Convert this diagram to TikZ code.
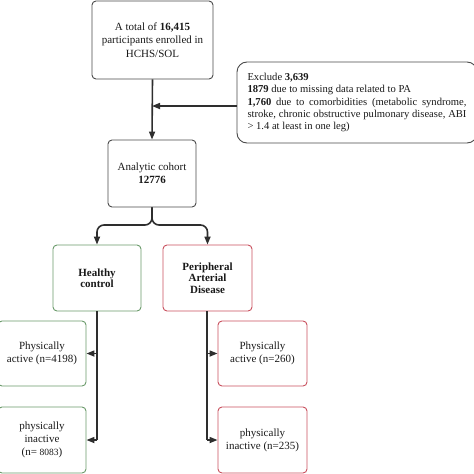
\documentclass[tikz,border=0pt]{standalone}
\usepackage{fontspec}
\setmainfont{Liberation Serif}
\usetikzlibrary{arrows.meta}
\definecolor{boxgray}{HTML}{4A4A4A}
\definecolor{linegray}{HTML}{2E2E2E}
\definecolor{hgreen}{HTML}{6A9A6A}
\definecolor{pred}{HTML}{C8505E}
\tikzset{
  box/.style={draw=boxgray, line width=0.9pt, rounded corners=4pt, align=center, inner sep=2pt, font=\fontsize{11}{13.3}\selectfont, text=black!90},
  gbox/.style={box, draw=hgreen},
  rbox/.style={box, draw=pred},
  conn/.style={draw=linegray, line width=1.6pt},
  tip/.style={-{Triangle[length=8pt,width=6pt]}},
}
\begin{document}
\begin{tikzpicture}[x=1pt,y=-1pt]
\useasboundingbox (0,0) rectangle (474,474);
\node[box, minimum width=121pt, minimum height=78pt] (top) at (152.5,40) {A total of \textbf{16,415}\\participants enrolled in\\HCHS/SOL};
\node[box, rounded corners=10pt, minimum width=240pt, minimum height=81pt, align=justify, text width=219pt, inner sep=0pt, font=\fontsize{10.6}{12.2}\selectfont] (excl) at (357,102.5) {Exclude \textbf{3,639}\\\textbf{1879} due to missing data related to PA\\\textbf{1,760} due to comorbidities (metabolic syndrome, stroke, chronic obstructive pulmonary disease, ABI \textgreater{} 1.4 at least in one leg)};
\node[box, minimum width=88pt, minimum height=67pt] (coh) at (152,173.5) {Analytic cohort\\\textbf{12776}};
\node[gbox, minimum width=88pt, minimum height=66pt, font=\bfseries\fontsize{11}{11.5}\selectfont] (hc) at (97,278) {Healthy\\control};
\node[rbox, minimum width=89pt, minimum height=66pt, font=\bfseries\fontsize{11}{11.5}\selectfont] (pad) at (207.5,278) {Peripheral\\Arterial\\Disease};
\node[gbox, minimum width=88pt, minimum height=65pt] (ha) at (42,353.5) {Physically\\active (n=4198)};
\node[gbox, minimum width=88pt, minimum height=66pt] (hi) at (42,440) {physically\\inactive\\(n= {\fontsize{9.5}{12}\selectfont 8083})};
\node[rbox, minimum width=89pt, minimum height=65pt] (pa) at (262.5,353.5) {Physically\\active (n=260)};
\node[rbox, minimum width=89pt, minimum height=66pt] (pi) at (262.5,440) {physically\\inactive (n=235)};
% main flow
\draw[conn, tip] (top.south) -- (coh.north);
\coordinate (j) at (152,106);
\draw[conn, tip] (excl.west |- j) -- (j);
\coordinate (split) at (152,225);
\draw[conn, tip, rounded corners=7pt] (coh.south) -- (split) -| (hc.north);
\draw[conn, tip, rounded corners=7pt] (coh.south) -- (split) -| (pad.north);
% healthy branch
\coordinate (hend) at (97,440);
\draw[conn] (hc.south) -- (hend);
\draw[conn, tip] (97,353.5) -- (ha.east);
\draw[conn, tip] (hend) -- (hi.east);
% PAD branch
\coordinate (pend) at (207,440);
\draw[conn] (pad.south -| pend) -- (pend);
\draw[conn, tip] (207,353.5) -- (pa.west);
\draw[conn, tip] (pend) -- (pi.west);
\end{tikzpicture}
\end{document}
